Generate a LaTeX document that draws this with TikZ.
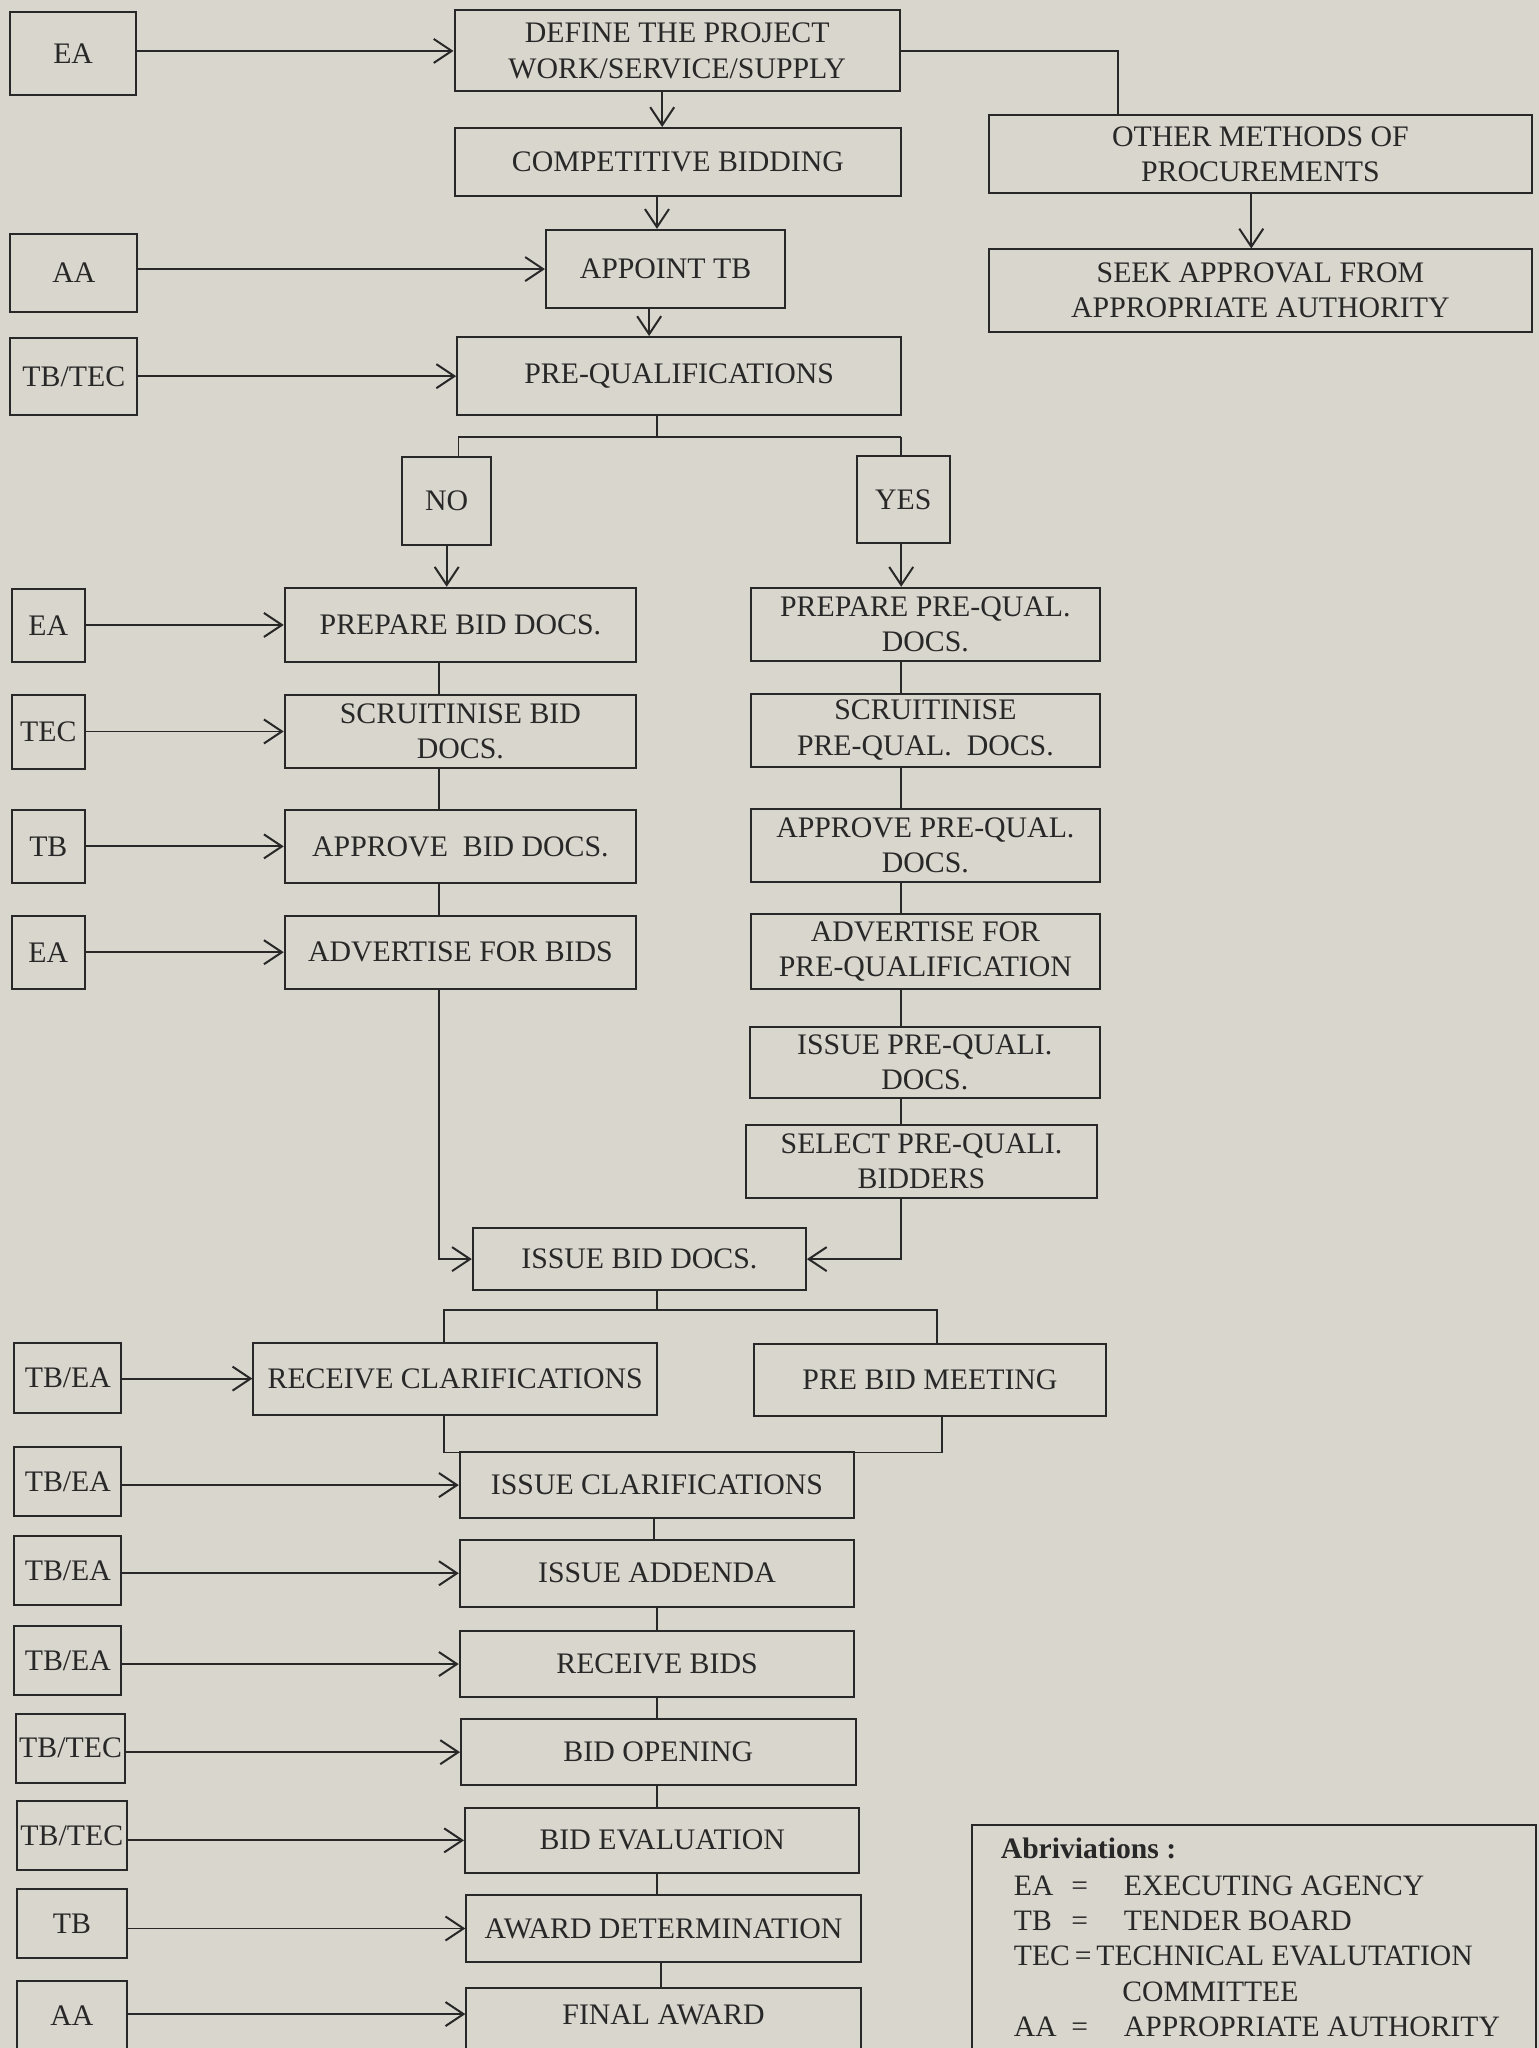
\documentclass[tikz,border=0pt]{standalone}
\usepackage{fontspec}
\setmainfont{Liberation Serif}
\usetikzlibrary{arrows.meta,calc}
\definecolor{paper}{RGB}{217,214,205}
\definecolor{ink}{RGB}{40,40,40}
% \mkbox{name}{x1}{y1}{x2}{y2}{text}
\newcommand\mkbox[6]{\node[box, minimum width={(#4-#2)*0.6528pt},
  minimum height={(#5-#3)*0.6528pt}] (#1) at ({(#2+#4)/2},{(#3+#5)/2}) {#6};}
\begin{document}
\begin{tikzpicture}[x=0.6528pt,y=-0.6528pt,
  box/.style={draw=ink, line width=1pt, inner sep=0pt, align=center, text=ink,
              font=\fontsize{14.9}{17.6}\selectfont},
  conn/.style={draw=ink, line width=0.9pt},
  arr/.style={conn, -{Straight Barb[length=9pt,width=12pt,line width=1pt]}},
  legtxt/.style={text=ink, inner sep=0pt, font=\fontsize{14.8}{17.6}\selectfont}]
\fill[paper] (0,0) rectangle (1178,1568);
\useasboundingbox (0,0) rectangle (1178,1568);
\begin{scope}
\clip (0,0) rectangle (1178,1568);
% ---------- agent boxes
\mkbox{ea1}{8}{9}{104}{73}{EA}
\mkbox{aa1}{8}{179}{105}{239}{AA}
\mkbox{tbtec1}{8}{259}{105}{318}{TB/TEC}
\mkbox{ea2}{9}{451}{65}{507}{EA}
\mkbox{tec1}{9}{532}{65}{589}{TEC}
\mkbox{tb1}{9}{620}{65}{676}{TB}
\mkbox{ea3}{9}{701}{65}{757}{EA}
\mkbox{tbea1}{11}{1028}{93}{1082}{TB/EA}
\mkbox{tbea2}{11}{1108}{93}{1161}{TB/EA}
\mkbox{tbea3}{11}{1176}{93}{1229}{TB/EA}
\mkbox{tbea4}{11}{1245}{93}{1298}{TB/EA}
\mkbox{tbtec2}{12}{1312}{96}{1365}{TB/TEC}
\mkbox{tbtec3}{13}{1379}{97}{1432}{TB/TEC}
\mkbox{tb2}{13}{1446}{97}{1499}{TB}
\mkbox{aa2}{13}{1517}{97}{1575}{\raisebox{4pt}{AA}}
% ---------- process boxes
\mkbox{define}{348}{8}{689}{70}{DEFINE THE PROJECT\\WORK/SERVICE/SUPPLY}
\mkbox{comp}{348}{98}{690}{150}{COMPETITIVE BIDDING}
\mkbox{appoint}{418}{176}{601}{236}{APPOINT TB}
\mkbox{prequal}{350}{258}{690}{318}{PRE-QUALIFICATIONS}
\mkbox{other}{757}{88}{1173}{148}{OTHER METHODS OF\\PROCUREMENTS}
\mkbox{seek}{757}{191}{1173}{254}{SEEK APPROVAL FROM\\APPROPRIATE AUTHORITY}
\mkbox{no}{308}{350}{376}{417}{NO}
\mkbox{yes}{656}{349}{727}{416}{YES}
\mkbox{prepbid}{218}{450}{487}{507}{PREPARE BID DOCS.}
\mkbox{scrbid}{218}{532}{487}{588}{SCRUITINISE BID\\DOCS.}
\mkbox{apprbid}{218}{620}{487}{676}{APPROVE\ \ BID DOCS.}
\mkbox{advbid}{218}{701}{487}{757}{ADVERTISE FOR BIDS}
\mkbox{prepq}{575}{450}{842}{506}{PREPARE PRE-QUAL.\\DOCS.}
\mkbox{scrq}{575}{531}{842}{587}{SCRUITINISE\\PRE-QUAL.\ \ DOCS.}
\mkbox{apprq}{575}{619}{842}{675}{APPROVE PRE-QUAL.\\DOCS.}
\mkbox{advq}{575}{700}{842}{757}{ADVERTISE FOR\\PRE-QUALIFICATION}
\mkbox{issueq}{574}{786}{842}{841}{ISSUE PRE-QUALI.\\DOCS.}
\mkbox{selq}{571}{861}{840}{917}{SELECT PRE-QUALI.\\BIDDERS}
\mkbox{issuebid}{362}{940}{617}{988}{ISSUE BID DOCS.}
\mkbox{recclar}{194}{1028}{503}{1083}{RECEIVE CLARIFICATIONS}
\mkbox{prebid}{577}{1029}{847}{1084}{PRE BID MEETING}
\mkbox{issclar}{352}{1112}{654}{1162}{ISSUE CLARIFICATIONS}
\mkbox{addenda}{352}{1179}{654}{1230}{ISSUE ADDENDA}
\mkbox{recbids}{352}{1249}{654}{1299}{RECEIVE BIDS}
\mkbox{bidopen}{353}{1316}{655}{1367}{BID OPENING}
\mkbox{bideval}{356}{1384}{658}{1434}{BID EVALUATION}
\mkbox{awarddet}{357}{1451}{659}{1502}{AWARD DETERMINATION}
\mkbox{final}{357}{1522}{659}{1575}{\raisebox{8pt}{FINAL AWARD}}
% ---------- legend
\node[draw=ink, line width=1pt, inner sep=0pt, minimum width={432*0.6528pt},
      minimum height={178*0.6528pt}] (legend) at (960,1486) {};
\node[legtxt, anchor=base west] (lg0) at (766,1423) {\textbf{Abriviations :}};
\node[legtxt, anchor=base west] (lg1) at (776,1451) {\makebox[28.7pt][l]{EA}\makebox[26.3pt][l]{=}EXECUTING AGENCY};
\node[legtxt, anchor=base west] (lg2) at (776,1478) {\makebox[28.7pt][l]{TB}\makebox[26.3pt][l]{=}TENDER BOARD};
\node[legtxt, anchor=base west] (lg3) at (776,1505) {TEC\,=\,TECHNICAL EVALUTATION};
\node[legtxt, anchor=base west] (lg4) at (859,1532) {COMMITTEE};
\node[legtxt, anchor=base west] (lg5) at (776,1559) {\makebox[28.7pt][l]{AA}\makebox[26.3pt][l]{=}APPROPRIATE AUTHORITY};
% ---------- helper x positions
\coordinate (v1) at (507,0);
\coordinate (v2) at (503,0);
\coordinate (v3) at (497,0);
\coordinate (vo) at (856,0);
\coordinate (vs) at (958,0);
\coordinate (lc) at (336,0);
\coordinate (rc) at (690,0);
\coordinate (cc) at (503,0);
\coordinate (c1) at (501,0);
\coordinate (c2) at (506,0);
\coordinate (spM) at (503,334.5);
\coordinate (spL) at (351,334.5);
\coordinate (spR) at (690,334.5);
\coordinate (sqM) at (503,1003);
\coordinate (sqL) at (340,1003);
\coordinate (sqR) at (717.5,1003);
\coordinate (jL) at (340,1112);
\coordinate (jR) at (721,1112);
% ---------- agent arrows
\draw[arr] (ea1.east |- define.west) -- (define.west);
\draw[arr] (aa1.east |- appoint.west) -- (appoint.west);
\draw[arr] (tbtec1.east |- prequal.west) -- (prequal.west);
\draw[arr] (ea2.east |- prepbid.west) -- (prepbid.west);
\draw[arr] (tec1.east |- scrbid.west) -- (scrbid.west);
\draw[arr] (tb1.east |- apprbid.west) -- (apprbid.west);
\draw[arr] (ea3.east |- advbid.west) -- (advbid.west);
\draw[arr] (tbea1.east |- recclar.west) -- (recclar.west);
\draw[arr] (tbea2.east |- issclar.west) -- (issclar.west);
\draw[arr] (tbea3.east |- addenda.west) -- (addenda.west);
\draw[arr] (tbea4.east |- recbids.west) -- (recbids.west);
\draw[arr] (tbtec2.east |- bidopen.west) -- (bidopen.west);
\draw[arr] (tbtec3.east |- bideval.west) -- (bideval.west);
\draw[arr] (tb2.east |- awarddet.west) -- (awarddet.west);
\draw[arr] (aa2.east |- 0,1542) -- (final.west |- 0,1542);
% ---------- top flow
\draw[arr] (define.south -| v1) -- (comp.north -| v1);
\draw[arr] (comp.south -| v2) -- (appoint.north -| v2);
\draw[arr] (appoint.south -| v3) -- (prequal.north -| v3);
\draw[conn] (define.east) -| (vo |- other.north);
\draw[arr] (other.south -| vs) -- (seek.north -| vs);
% ---------- yes / no split
\draw[conn] (prequal.south -| spM) -- (spM);
\draw[conn] (spL) -- (spR);
\draw[conn] (spL) -- (spL |- no.north);
\draw[conn] (spR) -- (spR |- yes.north);
\draw[arr] (no.south) -- (no.south |- prepbid.north);
\draw[arr] (yes.south -| rc) -- (prepq.north -| rc);
% ---------- left column
\draw[conn] (prepbid.south -| lc) -- (scrbid.north -| lc);
\draw[conn] (scrbid.south -| lc) -- (apprbid.north -| lc);
\draw[conn] (apprbid.south -| lc) -- (advbid.north -| lc);
\draw[arr] (advbid.south -| lc) |- (issuebid.west);
% ---------- right column
\draw[conn] (prepq.south -| rc) -- (scrq.north -| rc);
\draw[conn] (scrq.south -| rc) -- (apprq.north -| rc);
\draw[conn] (apprq.south -| rc) -- (advq.north -| rc);
\draw[conn] (advq.south -| rc) -- (issueq.north -| rc);
\draw[conn] (issueq.south -| rc) -- (selq.north -| rc);
\draw[arr] (selq.south -| rc) |- (issuebid.east);
% ---------- clarifications split / join
\draw[conn] (issuebid.south -| sqM) -- (sqM);
\draw[conn] (recclar.north -| sqL) -- (sqL) -- (sqR) -- (prebid.north -| sqR);
\draw[conn] (recclar.south -| jL) -- (jL) -- (jR) -- (prebid.south -| jR);
% ---------- bottom chain
\draw[conn] (issclar.south -| c1) -- (addenda.north -| c1);
\draw[conn] (addenda.south -| cc) -- (recbids.north -| cc);
\draw[conn] (recbids.south -| cc) -- (bidopen.north -| cc);
\draw[conn] (bidopen.south -| cc) -- (bideval.north -| cc);
\draw[conn] (bideval.south -| cc) -- (awarddet.north -| cc);
\draw[conn] (awarddet.south -| c2) -- (final.north -| c2);
\end{scope}
\end{tikzpicture}
\end{document}
